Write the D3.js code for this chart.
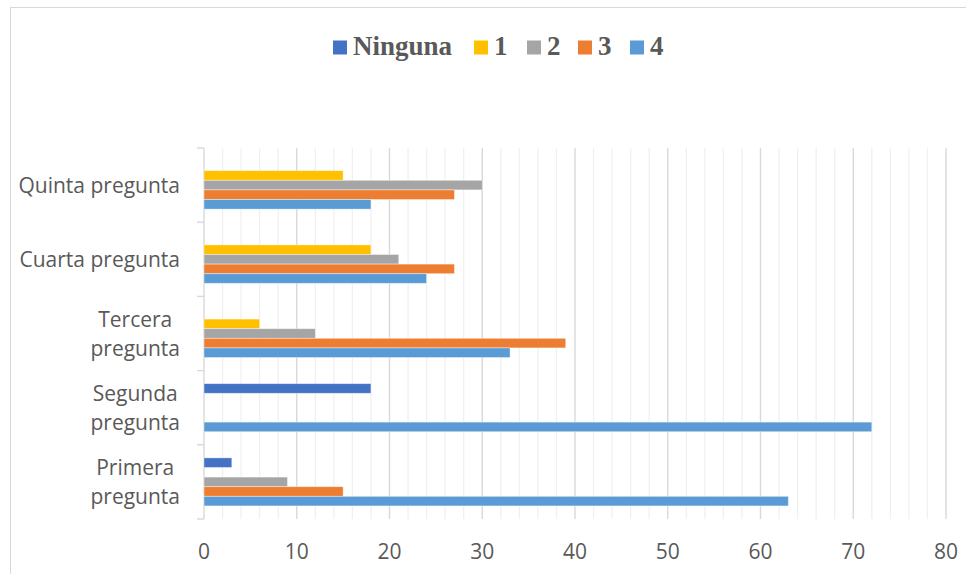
<!DOCTYPE html>
<html><head><meta charset="utf-8">
<script src="https://cdn.jsdelivr.net/npm/d3@7"></script>
<style>body{margin:0;background:#fff}svg{display:block}</style>
</head><body>
<svg id="c" width="966" height="574"></svg>
<script>
const categories = [["Primera","pregunta"],["Segunda","pregunta"],["Tercera","pregunta"],["Cuarta pregunta"],["Quinta pregunta"]];
const seriesNames = ["Ninguna","1","2","3","4"];
const seriesColors = ["#4472C4","#FFC000","#A5A5A5","#ED7D31","#5B9BD5"];
const ninguna = [3, 18, 0, 0, 0];
const uno     = [0, 0, 6, 18, 15];
const dos     = [9, 0, 12, 21, 30];
const tres    = [15, 0, 39, 27, 27];
const cuatro  = [63, 72, 33, 24, 18];
const xTicks = [0,10,20,30,40,50,60,70,80];

const values = [ninguna, uno, dos, tres, cuatro];
const svg = d3.select("#c");

svg.append("rect").attr("x",10.5).attr("y",7.5).attr("width",1000).attr("height",600)
  .attr("fill","#fff").attr("stroke","#D9D9D9").attr("stroke-width",1);

const x = d3.scaleLinear().domain([0,80]).range([204,946]);
const catKeys = categories.map(c=>c.join(" "));
const y0 = d3.scaleBand().domain(catKeys.slice().reverse()).range([148,519]).padding(0);
const y1 = d3.scaleBand().domain(seriesNames).range([0,y0.bandwidth()]).paddingInner(0).paddingOuter(1.36);

// grid
const minor = d3.range(0,81,2).filter(v=>v%10!==0);
svg.append("g").selectAll("line").data(minor).join("line")
  .attr("x1",d=>x(d)).attr("x2",d=>x(d)).attr("y1",148).attr("y2",519)
  .attr("stroke","#F0F0F0").attr("stroke-width",1.3);
svg.append("g").selectAll("line").data(xTicks.slice(1)).join("line")
  .attr("x1",d=>x(d)).attr("x2",d=>x(d)).attr("y1",148).attr("y2",519)
  .attr("stroke","#D9D9D9").attr("stroke-width",1.4);

// left axis
const yAxis = d3.axisLeft(y0).tickSize(0).tickFormat("");
const ag = svg.append("g").attr("transform","translate(204,0)").call(yAxis);
ag.select(".domain").attr("stroke","#D9D9D9").attr("stroke-width",1.4).attr("d","M0,148V519");
const bounds = catKeys.map(k=>y0(k)).concat([519]);
svg.append("g").selectAll("line").data(bounds).join("line")
  .attr("x1",197).attr("x2",204).attr("y1",d=>d).attr("y2",d=>d)
  .attr("stroke","#D9D9D9").attr("stroke-width",1.4);

// bars
categories.forEach((c,i)=>{
  const key = catKeys[i];
  seriesNames.forEach((s,j)=>{
    const v = values[j][i];
    if(!v) return;
    svg.append("rect")
      .attr("x",x(0)).attr("y",y0(key)+y1(s))
      .attr("width",x(v)-x(0)).attr("height",y1.bandwidth())
      .attr("fill",seriesColors[j]).attr("stroke","#fff").attr("stroke-opacity",0.5).attr("stroke-width",0.8);
  });
});

// category labels
const font = "'Open Sans', sans-serif";
categories.forEach((c,i)=>{
  const key = catKeys[i];
  const cy = y0(key)+y0.bandwidth()/2;
  const g = svg.append("g");
  const lh = 29;
  const n = c.length;
  const texts = c.map((line,k)=> g.append("text")
      .attr("y", cy + 7.5 + (k-(n-1)/2)*lh)
      .attr("font-family",font).attr("font-size",21).attr("fill","#595959")
      .attr("text-anchor","middle").text(line));
  const w = d3.max(texts, t=>t.node().getComputedTextLength());
  texts.forEach(t=>t.attr("x",180 - w/2));
});

// x tick labels
svg.append("g").selectAll("text").data(xTicks).join("text")
  .attr("x",d=>x(d)).attr("y",559)
  .attr("text-anchor","middle").attr("font-family",font).attr("font-size",21).attr("fill","#595959")
  .text(d=>d);

// legend
const legX = [333,474,527,578,630];
const lg = svg.append("g");
seriesNames.forEach((s,j)=>{
  lg.append("rect").attr("x",legX[j]).attr("y",40.5).attr("width",14).attr("height",14).attr("fill",seriesColors[j]);
  lg.append("text").attr("x",legX[j]+20).attr("y",55)
    .attr("font-family","'Liberation Serif', 'Times New Roman', serif").attr("font-weight","bold")
    .attr("font-size",27).attr("fill","#595959").text(s);
});
</script>
</body></html>
